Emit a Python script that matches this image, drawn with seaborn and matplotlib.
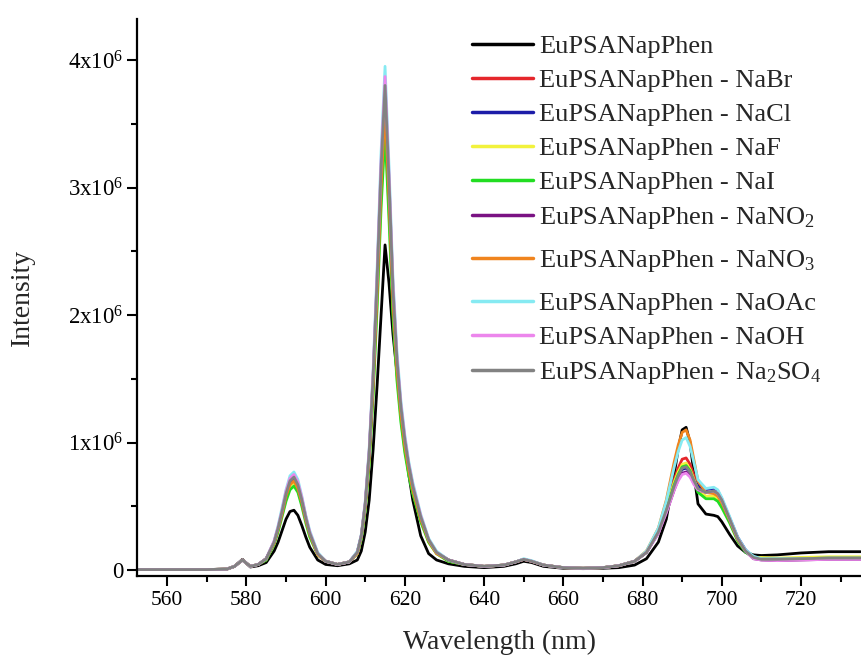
import matplotlib
matplotlib.use("Agg")
import matplotlib.pyplot as plt
from matplotlib.ticker import MultipleLocator, FuncFormatter
import pandas as pd
import seaborn as sns

# Emission wavelengths (nm)
wavelength = [552, 560, 570, 575, 577, 579, 581, 583,
              585, 587, 588, 589, 590, 591, 592, 593, 594, 595, 596, 598, 600,
              603, 606,
              608, 609, 610, 611, 612, 613, 614, 615, 616, 617, 618, 619, 620, 621, 622, 624, 626, 628, 631,
              635, 640, 645, 648, 650, 652, 655, 660, 665, 670, 674, 678,
              681, 684, 686, 688, 689, 690, 691, 692, 693, 694, 696, 698, 699, 700, 702, 704, 706, 708, 710,
              714, 720, 727, 735]

# Intensities in units of 10^6 counts
eu_plain = [0.005, 0.005, 0.005, 0.008, 0.03, 0.085, 0.025, 0.035,
            0.06, 0.15, 0.22, 0.31, 0.40, 0.46, 0.47, 0.43, 0.35, 0.26, 0.18, 0.08, 0.045,
            0.035, 0.05,
            0.08, 0.15, 0.30, 0.55, 0.95, 1.45, 2.00, 2.55, 2.25, 1.85, 1.55, 1.25, 0.98, 0.75, 0.55, 0.27, 0.13, 0.08, 0.05,
            0.03, 0.02, 0.03, 0.05, 0.07, 0.06, 0.03, 0.015, 0.012, 0.015, 0.02, 0.04,
            0.09, 0.22, 0.40, 0.75, 0.95, 1.10, 1.12, 1.00, 0.75, 0.52, 0.44, 0.43, 0.42, 0.38, 0.28, 0.19, 0.14, 0.12, 0.115,
            0.12, 0.135, 0.145, 0.145]

eu_nabr = [0.005, 0.005, 0.005, 0.008, 0.03, 0.08, 0.03, 0.045,
           0.09, 0.22, 0.33, 0.47, 0.61, 0.71, 0.74, 0.68, 0.56, 0.42, 0.29, 0.13, 0.07,
           0.045, 0.065,
           0.14, 0.27, 0.52, 0.93, 1.53, 2.30, 3.18, 3.83, 3.07, 2.22, 1.66, 1.29, 1.03, 0.83, 0.67, 0.42, 0.24, 0.14, 0.08,
           0.045, 0.03, 0.04, 0.065, 0.085, 0.07, 0.04, 0.02, 0.015, 0.02, 0.035, 0.07,
           0.14, 0.31, 0.49, 0.71, 0.80, 0.87, 0.88, 0.83, 0.74, 0.66, 0.61, 0.61, 0.59, 0.54, 0.40, 0.25, 0.15, 0.10, 0.09,
           0.09, 0.09, 0.095, 0.095]

eu_nacl = [0.005, 0.005, 0.005, 0.008, 0.03, 0.08, 0.03, 0.045,
           0.09, 0.22, 0.32, 0.45, 0.59, 0.69, 0.72, 0.66, 0.54, 0.40, 0.28, 0.13, 0.07,
           0.045, 0.065,
           0.14, 0.26, 0.51, 0.90, 1.48, 2.22, 3.07, 3.70, 2.97, 2.14, 1.61, 1.25, 0.99, 0.80, 0.64, 0.41, 0.23, 0.14, 0.08,
           0.045, 0.03, 0.04, 0.065, 0.085, 0.07, 0.04, 0.02, 0.015, 0.02, 0.035, 0.07,
           0.14, 0.30, 0.47, 0.66, 0.74, 0.79, 0.80, 0.77, 0.71, 0.66, 0.63, 0.64, 0.62, 0.56, 0.41, 0.26, 0.16, 0.10, 0.085,
           0.085, 0.09, 0.095, 0.095]

eu_naf = [0.005, 0.005, 0.005, 0.008, 0.03, 0.08, 0.03, 0.045,
          0.08, 0.21, 0.31, 0.43, 0.57, 0.66, 0.69, 0.63, 0.52, 0.39, 0.27, 0.12, 0.07,
          0.045, 0.065,
          0.13, 0.25, 0.48, 0.85, 1.41, 2.11, 2.92, 3.52, 2.82, 2.04, 1.53, 1.19, 0.94, 0.76, 0.61, 0.39, 0.22, 0.13, 0.07,
          0.045, 0.03, 0.04, 0.065, 0.085, 0.07, 0.04, 0.02, 0.015, 0.02, 0.035, 0.07,
          0.15, 0.31, 0.49, 0.69, 0.77, 0.83, 0.84, 0.79, 0.71, 0.63, 0.58, 0.58, 0.56, 0.51, 0.38, 0.24, 0.15, 0.10, 0.10,
          0.095, 0.10, 0.105, 0.105]

eu_nai = [0.005, 0.005, 0.005, 0.008, 0.03, 0.08, 0.03, 0.045,
          0.08, 0.20, 0.30, 0.42, 0.54, 0.63, 0.66, 0.61, 0.50, 0.37, 0.26, 0.12, 0.07,
          0.045, 0.065,
          0.13, 0.24, 0.47, 0.83, 1.37, 2.06, 2.84, 3.43, 2.75, 1.99, 1.49, 1.16, 0.92, 0.74, 0.60, 0.38, 0.22, 0.13, 0.07,
          0.045, 0.03, 0.04, 0.065, 0.085, 0.07, 0.04, 0.02, 0.015, 0.02, 0.035, 0.07,
          0.14, 0.30, 0.48, 0.67, 0.75, 0.81, 0.82, 0.78, 0.69, 0.61, 0.56, 0.56, 0.54, 0.49, 0.37, 0.23, 0.14, 0.10, 0.09,
          0.09, 0.09, 0.095, 0.095]

eu_nano2 = [0.005, 0.005, 0.005, 0.008, 0.03, 0.08, 0.03, 0.045,
            0.09, 0.22, 0.33, 0.45, 0.59, 0.69, 0.72, 0.66, 0.54, 0.40, 0.29, 0.13, 0.07,
            0.045, 0.065,
            0.14, 0.27, 0.51, 0.91, 1.50, 2.25, 3.11, 3.75, 3.01, 2.17, 1.63, 1.26, 1.01, 0.81, 0.65, 0.41, 0.24, 0.14, 0.08,
            0.045, 0.03, 0.04, 0.065, 0.085, 0.07, 0.04, 0.02, 0.015, 0.02, 0.035, 0.07,
            0.14, 0.29, 0.45, 0.63, 0.71, 0.76, 0.77, 0.74, 0.68, 0.63, 0.61, 0.62, 0.60, 0.55, 0.40, 0.25, 0.15, 0.09, 0.08,
            0.075, 0.08, 0.085, 0.085]

eu_nano3 = [0.005, 0.005, 0.005, 0.008, 0.03, 0.08, 0.03, 0.045,
            0.09, 0.21, 0.32, 0.44, 0.58, 0.67, 0.70, 0.64, 0.53, 0.39, 0.28, 0.12, 0.07,
            0.045, 0.065,
            0.13, 0.26, 0.50, 0.88, 1.45, 2.17, 3.00, 3.62, 2.91, 2.10, 1.57, 1.22, 0.97, 0.78, 0.63, 0.40, 0.23, 0.13, 0.08,
            0.045, 0.03, 0.04, 0.065, 0.085, 0.07, 0.04, 0.02, 0.015, 0.02, 0.035, 0.07,
            0.15, 0.33, 0.55, 0.85, 0.98, 1.08, 1.10, 1.02, 0.86, 0.70, 0.61, 0.60, 0.58, 0.53, 0.39, 0.24, 0.15, 0.10, 0.09,
            0.09, 0.09, 0.095, 0.095]

eu_naoac = [0.005, 0.005, 0.005, 0.008, 0.03, 0.08, 0.03, 0.045,
            0.09, 0.23, 0.35, 0.49, 0.63, 0.74, 0.77, 0.71, 0.58, 0.43, 0.31, 0.14, 0.07,
            0.045, 0.065,
            0.15, 0.28, 0.54, 0.96, 1.58, 2.37, 3.28, 3.95, 3.17, 2.29, 1.72, 1.33, 1.06, 0.85, 0.69, 0.44, 0.25, 0.15, 0.08,
            0.045, 0.03, 0.04, 0.065, 0.09, 0.075, 0.04, 0.02, 0.015, 0.02, 0.035, 0.07,
            0.15, 0.33, 0.54, 0.81, 0.93, 1.02, 1.04, 0.97, 0.84, 0.71, 0.64, 0.65, 0.63, 0.57, 0.42, 0.26, 0.16, 0.11, 0.09,
            0.09, 0.09, 0.095, 0.095]

eu_naoh = [0.005, 0.005, 0.005, 0.008, 0.03, 0.08, 0.03, 0.045,
           0.09, 0.23, 0.34, 0.47, 0.62, 0.72, 0.75, 0.69, 0.57, 0.42, 0.30, 0.13, 0.07,
           0.045, 0.065,
           0.14, 0.27, 0.53, 0.94, 1.55, 2.32, 3.21, 3.87, 3.10, 2.24, 1.68, 1.30, 1.04, 0.83, 0.67, 0.43, 0.24, 0.14, 0.08,
           0.045, 0.03, 0.04, 0.065, 0.085, 0.07, 0.04, 0.02, 0.015, 0.02, 0.035, 0.07,
           0.14, 0.29, 0.45, 0.63, 0.70, 0.75, 0.76, 0.73, 0.67, 0.63, 0.61, 0.62, 0.60, 0.55, 0.40, 0.25, 0.15, 0.09, 0.08,
           0.075, 0.08, 0.085, 0.085]

eu_na2so4 = [0.005, 0.005, 0.005, 0.008, 0.03, 0.08, 0.03, 0.045,
             0.09, 0.22, 0.33, 0.46, 0.60, 0.70, 0.73, 0.67, 0.55, 0.41, 0.29, 0.13, 0.07,
             0.045, 0.065,
             0.14, 0.27, 0.52, 0.92, 1.52, 2.28, 3.15, 3.80, 3.05, 2.20, 1.65, 1.28, 1.02, 0.82, 0.66, 0.42, 0.24, 0.14, 0.08,
             0.045, 0.03, 0.04, 0.065, 0.085, 0.07, 0.04, 0.02, 0.015, 0.02, 0.035, 0.07,
             0.14, 0.30, 0.47, 0.66, 0.74, 0.80, 0.81, 0.77, 0.70, 0.64, 0.61, 0.62, 0.60, 0.55, 0.40, 0.25, 0.15, 0.10, 0.085,
             0.085, 0.09, 0.095, 0.095]

sample_labels = [
    "EuPSANapPhen",
    "EuPSANapPhen - NaBr",
    "EuPSANapPhen - NaCl",
    "EuPSANapPhen - NaF",
    "EuPSANapPhen - NaI",
    r"EuPSANapPhen - NaNO$_\mathregular{2}$",
    r"EuPSANapPhen - NaNO$_\mathregular{3}$",
    "EuPSANapPhen - NaOAc",
    "EuPSANapPhen - NaOH",
    r"EuPSANapPhen - Na$_\mathregular{2}$SO$_\mathregular{4}$",
]
series = [eu_plain, eu_nabr, eu_nacl, eu_naf, eu_nai,
          eu_nano2, eu_nano3, eu_naoac, eu_naoh, eu_na2so4]
line_colors = ["#000000", "#e5262b", "#1c1ca8", "#f2f23c", "#22dd22",
               "#7a1283", "#f0841e", "#86eaf2", "#ec86ec", "#828282"]

frames = []
for lab, vals in zip(sample_labels, series):
    frames.append(pd.DataFrame({"Wavelength": wavelength,
                                "Intensity": [v * 1e6 for v in vals],
                                "Sample": lab}))
df = pd.concat(frames, ignore_index=True)

sns.set_theme(style="ticks")
plt.rcParams["font.family"] = ["Liberation Serif", "DejaVu Serif"]
plt.rcParams["mathtext.fontset"] = "custom"
plt.rcParams["mathtext.rm"] = "Liberation Serif"
plt.rcParams["mathtext.it"] = "Liberation Serif:italic"
plt.rcParams["mathtext.bf"] = "Liberation Serif:bold"

fig = plt.figure(figsize=(8.62, 6.6), dpi=100)
ax = fig.add_axes([0.159, 0.127, 0.841, 0.844])

sns.lineplot(data=df, x="Wavelength", y="Intensity", hue="Sample",
             hue_order=sample_labels, palette=line_colors,
             estimator=None, sort=False, linewidth=2.0, ax=ax)

ax.set_xlim(552.4, 735.4)
ax.set_ylim(-0.047e6, 4.32e6)

ax.xaxis.set_major_locator(MultipleLocator(20))
ax.xaxis.set_minor_locator(MultipleLocator(10))
ax.yaxis.set_major_locator(MultipleLocator(1e6))
ax.yaxis.set_minor_locator(MultipleLocator(0.5e6))


def sci_fmt(v, pos):
    n = int(round(v / 1e6))
    if n == 0:
        return "0"
    return r"$\mathregular{%dx10^{6}}$" % n


ax.yaxis.set_major_formatter(FuncFormatter(sci_fmt))

for side in ("top", "right"):
    ax.spines[side].set_visible(False)
for side in ("left", "bottom"):
    ax.spines[side].set_linewidth(1.6)
    ax.spines[side].set_color("black")

ax.tick_params(axis="both", which="major", direction="out", length=7,
               width=1.5, colors="black")
ax.tick_params(axis="x", which="major", labelsize=15.5, pad=4)
ax.tick_params(axis="y", which="major", labelsize=16.5, pad=3)
ax.tick_params(axis="both", which="minor", direction="out", length=4.5,
               width=1.5, colors="black")

ax.set_xlabel("Wavelength (nm)", fontsize=20, labelpad=14)
ax.set_ylabel("Intensity", fontsize=20, labelpad=24)

handles, labels = ax.get_legend_handles_labels()
for h in handles:
    h.set_linewidth(2.5)
leg = ax.legend(handles, labels, loc="upper left", bbox_to_anchor=(0.462, 0.972),
                frameon=False, fontsize=19, handlelength=2.3, handletextpad=0.25,
                labelspacing=0.40, borderpad=0, borderaxespad=0)

# Extra room below the entries whose labels carry subscripts
for column in leg._legend_handle_box.get_children():
    for item in column.get_children():
        handle_area, text_area = item.get_children()
        if "NO$" in text_area._text.get_text():
            handle_area.ydescent += 10.0

fig.savefig("out.png", dpi=100)
